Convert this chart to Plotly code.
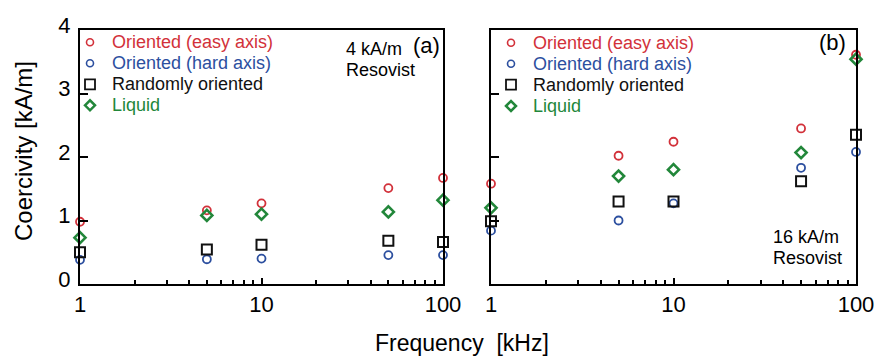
import plotly.graph_objects as go

# ---------------- data ----------------
freq = [1, 5, 10, 50, 100]  # kHz

# panel (a): 4 kA/m, Resovist
a_easy = [0.98, 1.16, 1.27, 1.51, 1.67]
a_hard = [0.38, 0.39, 0.40, 0.455, 0.455]
a_random = [0.50, 0.545, 0.62, 0.68, 0.66]
a_liquid = [0.73, 1.08, 1.10, 1.135, 1.32]

# panel (b): 16 kA/m, Resovist
b_easy = [1.58, 2.02, 2.24, 2.45, 3.61]
b_hard = [0.84, 1.00, 1.27, 1.83, 2.08]
b_random = [0.99, 1.30, 1.30, 1.62, 2.35]
b_liquid = [1.20, 1.70, 1.80, 2.07, 3.54]

series_names = ["Oriented (easy axis)", "Oriented (hard axis)", "Randomly oriented", "Liquid"]
x_tickvals = [1, 10, 100]
x_ticktext = ["1", "10", "100"]
x_minor = [2, 3, 4, 5, 6, 7, 8, 9, 20, 30, 40, 50, 60, 70, 80, 90]
y_tickvals = [0, 1, 2, 3, 4]

# ---------------- style ----------------
W, H = 875, 359
FONT = "Liberation Sans, Arial, Helvetica, sans-serif"
RED = "#d2313a"
BLUE = "#2c4f9f"
BLACK = "#111111"
GREEN = "#22873a"
colors = [RED, BLUE, BLACK, GREEN]
symbols = ["circle-open", "circle-open", "square-open", "diamond-open"]
sizes = [8, 8, 10, 8.5]
lwidths = [1.8, 1.8, 2.0, 2.6]


def px_x(p):
    return p / W


def px_y(p):
    return (H - p) / H


fig = go.Figure()

panels = [
    ("x", "y", [a_easy, a_hard, a_random, a_liquid]),
    ("x2", "y2", [b_easy, b_hard, b_random, b_liquid]),
]
for xa, ya, vals in panels:
    for name, v, c, s, sz, lw in zip(series_names, vals, colors, symbols, sizes, lwidths):
        fig.add_trace(go.Scatter(
            x=freq, y=v, name=name, mode="markers", xaxis=xa, yaxis=ya,
            marker=dict(symbol=s, size=sz, color=c, line=dict(color=c, width=lw)),
            cliponaxis=False, showlegend=False,
        ))

xcommon = dict(
    type="log", range=[0, 2], tickvals=x_tickvals, ticktext=x_ticktext,
    ticks="inside", ticklen=6, tickwidth=1.5, tickcolor="black",
    minor=dict(tickvals=x_minor, ticks="inside", ticklen=4, tickwidth=1.5, tickcolor="black", showgrid=False),
    showline=True, mirror=True, linewidth=2, linecolor="black",
    showgrid=False, zeroline=False, automargin=False,
    tickfont=dict(family=FONT, size=22, color="black"),
)
ycommon = dict(
    range=[0, 4], tickvals=y_tickvals,
    ticks="inside", ticklen=8, tickwidth=1.5, tickcolor="black",
    showline=True, mirror=True, linewidth=2, linecolor="black",
    showgrid=False, zeroline=False, automargin=False,
    tickfont=dict(family=FONT, size=22, color="black"),
)

ydom = [px_y(284), px_y(30)]
fig.update_layout(
    template="none",
    width=W, height=H,
    margin=dict(l=0, r=0, t=0, b=0, pad=0, autoexpand=False),
    paper_bgcolor="white", plot_bgcolor="white",
    showlegend=False,
    font=dict(family=FONT, color="black"),
    xaxis=dict(domain=[px_x(80), px_x(443)], anchor="y", **xcommon),
    xaxis2=dict(domain=[px_x(491), px_x(856)], anchor="y2", **xcommon),
    yaxis=dict(domain=ydom, anchor="x", ticklabelstandoff=3, ticklabelshift=-5, **ycommon),
    yaxis2=dict(domain=ydom, anchor="x2", showticklabels=False, **ycommon),
)

ann = []


def text(x, y, t, size=18, color="black", xanchor="left", angle=0):
    ann.append(dict(
        x=px_x(x), y=px_y(y), xref="paper", yref="paper", text=t,
        showarrow=False, xanchor=xanchor, yanchor="middle", textangle=angle,
        font=dict(family=FONT, size=size, color=color), borderpad=0,
    ))


# axis titles
text(462, 343, "Frequency  [kHz]", size=23, xanchor="center")
text(23, 151, "Coercivity [kA/m]", size=24, xanchor="center", angle=-90)

# panel labels
text(426, 45, "(a)", size=22, xanchor="center")
text(345, 49, "4 kA/m", size=18)
text(345, 70, "Resovist", size=18)
text(832, 43, "(b)", size=22, xanchor="center")
text(772, 237, "16 kA/m", size=18)
text(772, 258, "Resovist", size=18)

# legends (drawn in each panel)
shapes = []
legend_sets = [
    (90, 111, [42.3, 63.3, 84.3, 105.3]),
    (511, 532, [42.7, 63.7, 84.7, 106.0]),
]
for kx, tx, rows in legend_sets:
    for i, (name, c) in enumerate(zip(series_names, colors)):
        yy = rows[i]
        text(tx, yy, name, size=18, color=c)
        base = dict(xref="paper", yref="paper", xsizemode="pixel", ysizemode="pixel",
                    xanchor=px_x(kx), yanchor=px_y(yy), layer="above")
        if i < 2:
            shapes.append(dict(type="circle", x0=-3.5, x1=3.5, y0=-3.5, y1=3.5,
                               line=dict(color=c, width=1.6), **base))
        elif i == 2:
            shapes.append(dict(type="rect", x0=-5, x1=5, y0=-5, y1=5,
                               line=dict(color=c, width=1.8), **base))
        else:
            shapes.append(dict(type="path", path="M -5 0 L 0 5 L 5 0 L 0 -5 Z",
                               line=dict(color=c, width=2.5), **base))

fig.update_layout(annotations=ann, shapes=shapes)

fig.write_html("out.html")
